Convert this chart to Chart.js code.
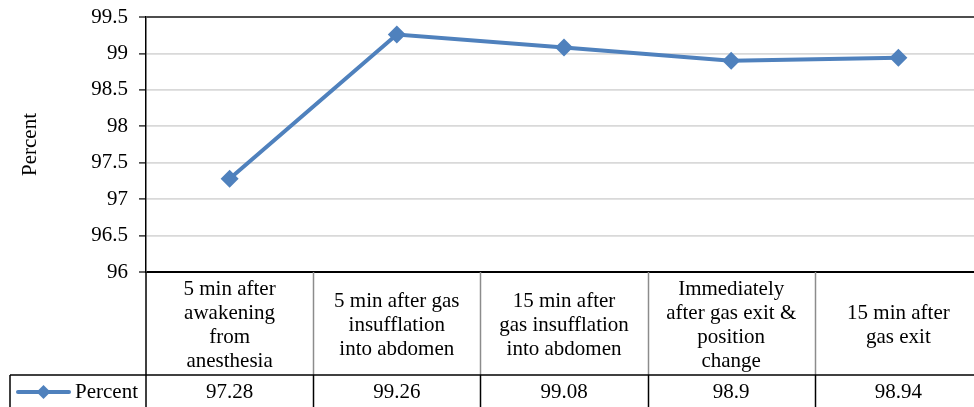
<!DOCTYPE html>
<html>
<head>
<meta charset="utf-8">
<script src="https://cdn.jsdelivr.net/npm/chart.js@4"></script>
<style>
  html, body { margin: 0; padding: 0; background: #fff; overflow: hidden; }
  #wrap { width: 974px; height: 407px; overflow: hidden; position: relative; }
  #c { position: absolute; left: 0; top: 0; }
</style>
</head>
<body>
<div id="wrap"><canvas id="c" width="990" height="407"></canvas></div>
<script>
const categories = [
  ["5 min after", "awakening", "from", "anesthesia"],
  ["5 min after gas", "insufflation", "into abdomen"],
  ["15 min after", "gas insufflation", "into abdomen"],
  ["Immediately", "after gas exit &", "position", "change"],
  ["15 min after", "gas exit"]
];
const seriesName = "Percent";
const percentValues = [97.28, 99.26, 99.08, 98.9, 98.94];
const valueLabels = ["97.28", "99.26", "99.08", "98.9", "98.94"];
const yMin = 96, yMax = 99.5, yStep = 0.5;

const FONT = '"Liberation Serif", "Times New Roman", serif';
const BLUE = '#4F81BD';

const tablePlugin = {
  id: 'dataTable',
  afterDraw(chart) {
    const ctx = chart.ctx;
    const x = chart.scales.x;
    const area = chart.chartArea;
    const top = area.bottom;
    const rowSplit = 375;
    const bottom = chart.height + 5;
    const n = categories.length;
    const half = (x.getPixelForValue(1) - x.getPixelForValue(0)) / 2;
    ctx.save();
    for (let i = 1; i < n; i++) {
      const bx = Math.round(x.getPixelForValue(i) - half) + 0.5;
      ctx.strokeStyle = '#8c8c8c';
      ctx.lineWidth = 1.5;
      ctx.beginPath(); ctx.moveTo(bx, top); ctx.lineTo(bx, rowSplit); ctx.stroke();
      ctx.strokeStyle = '#000';
      ctx.beginPath(); ctx.moveTo(bx, rowSplit); ctx.lineTo(bx, bottom); ctx.stroke();
    }
    ctx.strokeStyle = '#000';
    ctx.lineWidth = 1.5;
    ctx.beginPath(); ctx.moveTo(area.left, top); ctx.lineTo(area.left, bottom); ctx.stroke();
    ctx.beginPath(); ctx.moveTo(10, rowSplit); ctx.lineTo(chart.width, rowSplit); ctx.stroke();
    ctx.beginPath(); ctx.moveTo(10, rowSplit); ctx.lineTo(10, bottom); ctx.stroke();

    ctx.fillStyle = '#000';
    ctx.font = '21px ' + FONT;
    ctx.textAlign = 'center';
    ctx.textBaseline = 'middle';
    const lh = 23.7;
    const midY = 325.5;
    categories.forEach((lines, i) => {
      const cx = x.getPixelForValue(i);
      const startY = midY - (lines.length - 1) * lh / 2;
      lines.forEach((t, j) => ctx.fillText(t, cx, startY + j * lh));
    });
    const vy = 392;
    valueLabels.forEach((t, i) => ctx.fillText(t, x.getPixelForValue(i), vy));

    ctx.strokeStyle = BLUE;
    ctx.lineWidth = 4;
    ctx.lineCap = 'round';
    ctx.beginPath(); ctx.moveTo(18, vy); ctx.lineTo(69, vy); ctx.stroke();
    ctx.fillStyle = BLUE;
    ctx.beginPath();
    ctx.moveTo(43.5, vy - 7); ctx.lineTo(50.5, vy); ctx.lineTo(43.5, vy + 7); ctx.lineTo(36.5, vy);
    ctx.closePath(); ctx.fill();
    ctx.fillStyle = '#000';
    ctx.textAlign = 'left';
    ctx.fillText(seriesName, 75, vy);
    ctx.restore();
  }
};

new Chart(document.getElementById('c'), {
  type: 'line',
  data: {
    labels: categories.map(c => c.join(' ')),
    datasets: [{
      label: seriesName,
      data: percentValues,
      borderColor: BLUE,
      backgroundColor: BLUE,
      borderWidth: 4,
      pointStyle: 'rectRot',
      pointRadius: 9,
      pointHoverRadius: 9,
      pointBackgroundColor: BLUE,
      pointBorderColor: BLUE,
      pointBorderWidth: 0,
      tension: 0,
      clip: false
    }]
  },
  options: {
    responsive: false,
    animation: false,
    devicePixelRatio: 1,
    events: [],
    layout: { autoPadding: false, padding: { top: 17, bottom: 135, left: 0, right: 8 } },
    plugins: { legend: { display: false }, tooltip: { enabled: false } },
    scales: {
      x: {
        type: 'category',
        offset: true,
        display: false
      },
      y: {
        min: yMin, max: yMax,
        afterFit(scale) { scale.width = 146; scale.paddingTop = 0; scale.paddingBottom = 0; },
        ticks: {
          stepSize: yStep,
          color: '#000',
          font: { family: FONT, size: 21 },
          padding: 11,
          callback: (v) => String(Number(v))
        },
        grid: {
          color: (c) => c.tick && c.tick.value === yMax ? '#4d4d4d' : (c.tick && c.tick.value === yMin ? '#000' : '#d9d9d9'),
          lineWidth: (c) => c.tick && (c.tick.value === yMax || c.tick.value === yMin) ? 2 : 1.8,
          tickLength: 7,
          tickColor: '#000',
          tickWidth: 1.2
        },
        border: { color: '#000', width: 1.5 },
        title: {
          display: true,
          text: 'Percent',
          color: '#000',
          font: { family: FONT, size: 21 },
          padding: { top: 18, bottom: 0 }
        }
      }
    }
  },
  plugins: [tablePlugin]
});
</script>
</body>
</html>
